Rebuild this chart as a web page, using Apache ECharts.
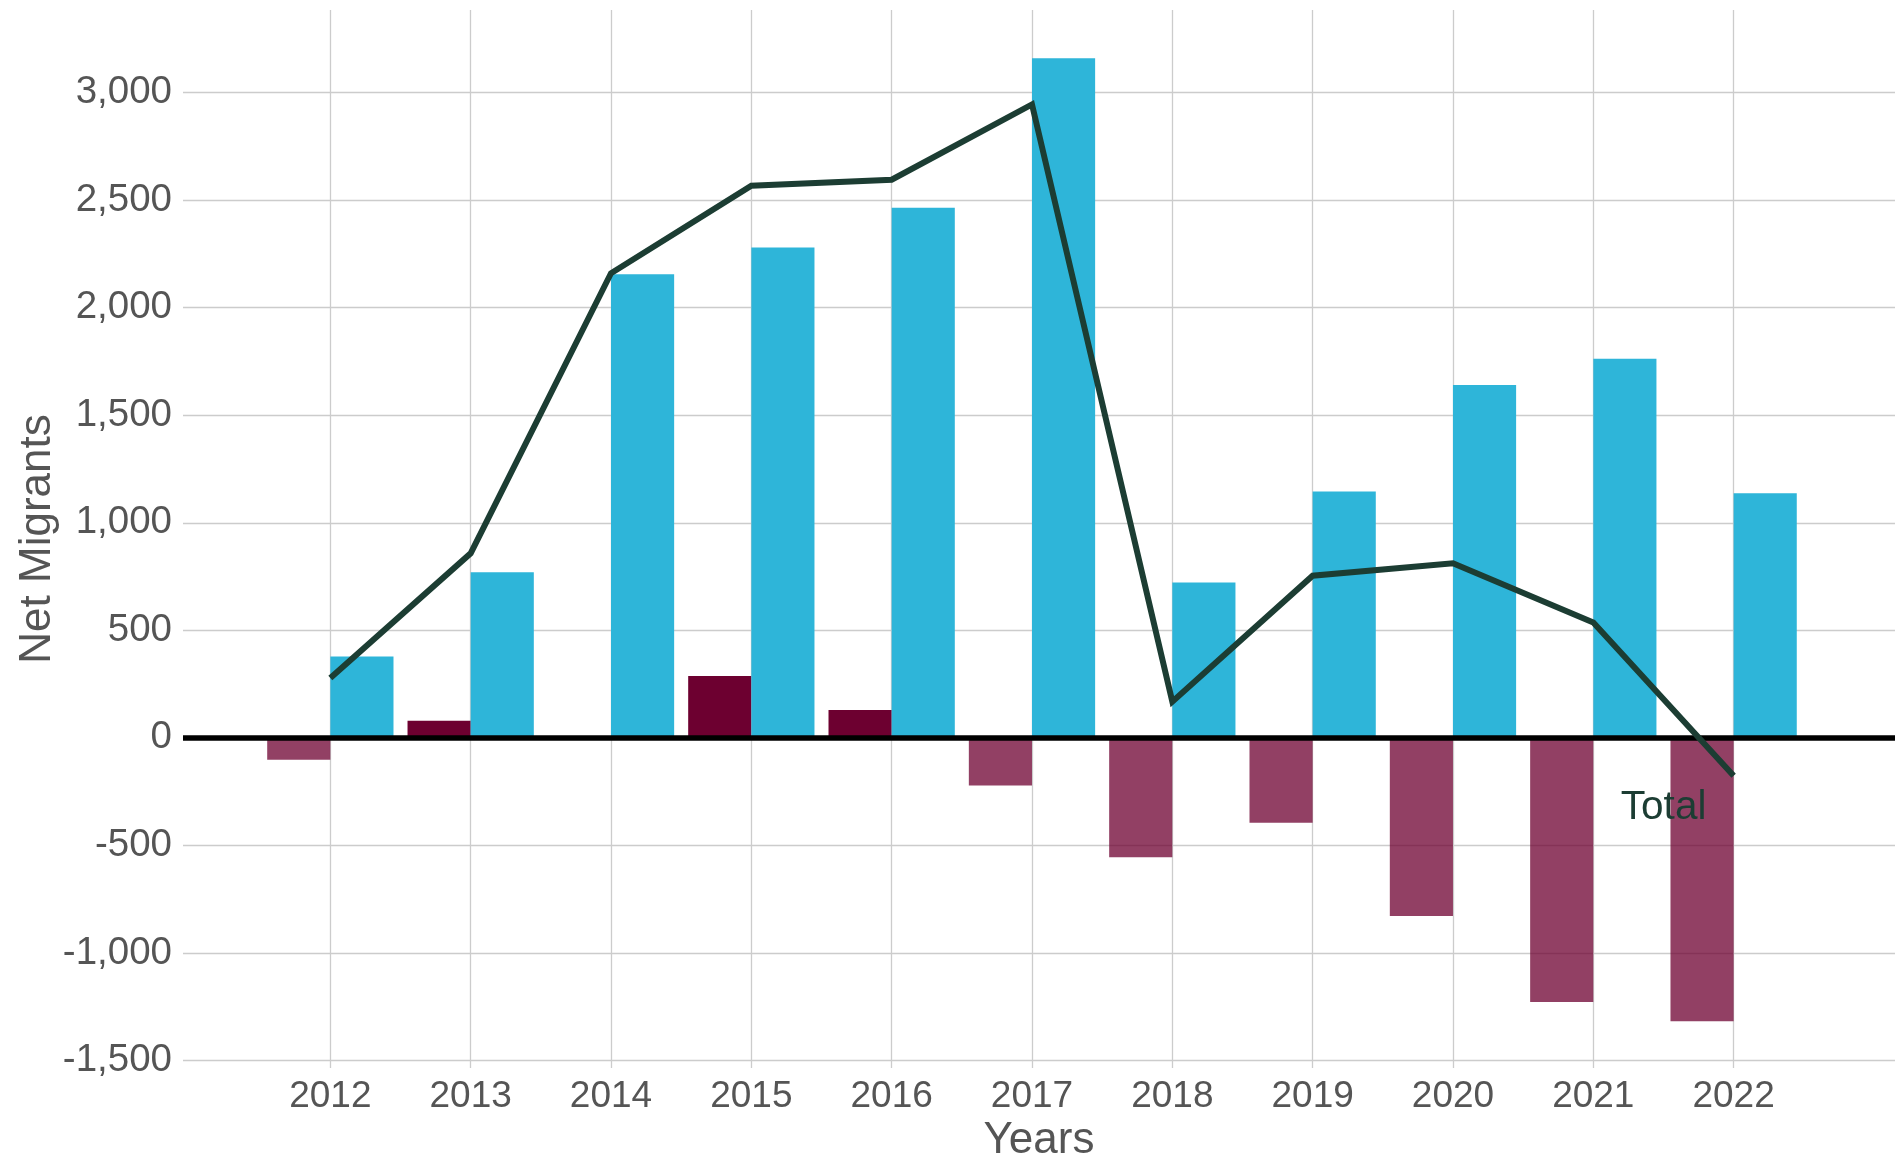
<!DOCTYPE html>
<html>
<head>
<meta charset="utf-8">
<script src="https://cdn.jsdelivr.net/npm/echarts@6/dist/echarts.min.js"></script>
<style>
html,body{margin:0;padding:0;background:#fff;}
#chart{width:1895px;height:1160px;}
</style>
</head>
<body>
<div id="chart"></div>
<script>
// ---- Data ----
const years = [2012, 2013, 2014, 2015, 2016, 2017, 2018, 2019, 2020, 2021, 2022];
const outflow = [-102, 80, 0, 288, 130, -222, -555, -395, -828, -1228, -1318];   // maroon bars
const inflow = [378, 770, 2155, 2280, 2465, 3160, 722, 1145, 1640, 1762, 1137];  // blue bars
const total = [278, 858, 2160, 2567, 2595, 2945, 168, 754, 812, 536, -176];       // line
const yTicks = [-1500, -1000, -500, 0, 500, 1000, 1500, 2000, 2500, 3000];
const lineLabel = 'Total';

const FONT = '"Liberation Sans", Arial, sans-serif';
const TEXT = '#555555';
const MAROON = '#6d0030';
const MAROON_NEG = 'rgba(109,0,48,0.75)';
const BLUE = '#2eb5d9';
const LINE = '#1c3d33';

const chart = echarts.init(document.getElementById('chart'), null, {renderer: 'canvas'});

const option = {
  animation: false,
  backgroundColor: '#ffffff',
  grid: {left: 183, right: 0, top: 10, bottom: 92, containLabel: false, outerBoundsMode: 'none'},
  xAxis: {
    type: 'value',
    min: 2010.95,
    max: 2023.15,
    name: 'Years',
    nameLocation: 'middle',
    nameGap: 51,
    nameMoveOverlap: false,
    nameTextStyle: {fontFamily: FONT, fontSize: 44, color: TEXT},
    axisLine: {show: false},
    axisTick: {show: false, customValues: years},
    axisLabel: {
      customValues: years,
      fontFamily: FONT, fontSize: 37, color: TEXT, margin: 10,
      formatter: v => String(v)
    },
    splitLine: {show: true, lineStyle: {color: '#cccccc', width: 1.3}}
  },
  yAxis: {
    type: 'value',
    min: -1535,
    max: 3384,
    name: 'Net Migrants',
    nameLocation: 'middle',
    nameGap: 123,
    nameMoveOverlap: false,
    nameTextStyle: {fontFamily: FONT, fontSize: 44, color: TEXT},
    axisLine: {show: false},
    axisTick: {show: false, customValues: yTicks},
    axisLabel: {
      customValues: yTicks,
      fontFamily: FONT, fontSize: 38.5, color: TEXT, margin: 11,
      formatter: v => Number(v).toLocaleString('en-US')
    },
    splitLine: {show: true, lineStyle: {color: '#cccccc', width: 1.3}}
  },
  series: [
    {
      type: 'bar',
      name: 'Outflow',
      barWidth: '45%',
      barGap: '0%',
      data: years.map((y, i) => ({
        value: [y, outflow[i]],
        itemStyle: {color: outflow[i] < 0 ? MAROON_NEG : MAROON}
      })),
      z: 2
    },
    {
      type: 'bar',
      name: 'Inflow',
      barWidth: '45%',
      barGap: '0%',
      itemStyle: {color: BLUE},
      data: years.map((y, i) => [y, inflow[i]]),
      markLine: {
        silent: true,
        symbol: 'none',
        label: {show: false},
        lineStyle: {color: '#000000', width: 5.5, type: 'solid'},
        data: [{yAxis: 0}]
      },
      z: 2
    },
    {
      type: 'line',
      name: 'Total',
      symbol: 'none',
      lineStyle: {color: LINE, width: 6, cap: 'butt', join: 'miter'},
      itemStyle: {color: LINE},
      data: years.map((y, i) => [y, total[i]]),
      markPoint: {
        silent: true,
        symbol: 'circle',
        symbolSize: 1,
        itemStyle: {color: 'rgba(0,0,0,0)'},
        label: {
          show: true, position: 'inside', offset: [-70, 32],
          formatter: lineLabel,
          fontFamily: FONT, fontSize: 40.5, color: LINE
        },
        data: [{coord: [years[years.length - 1], total[total.length - 1]]}]
      },
      z: 5
    }
  ]
};
chart.setOption(option);
</script>
</body>
</html>
